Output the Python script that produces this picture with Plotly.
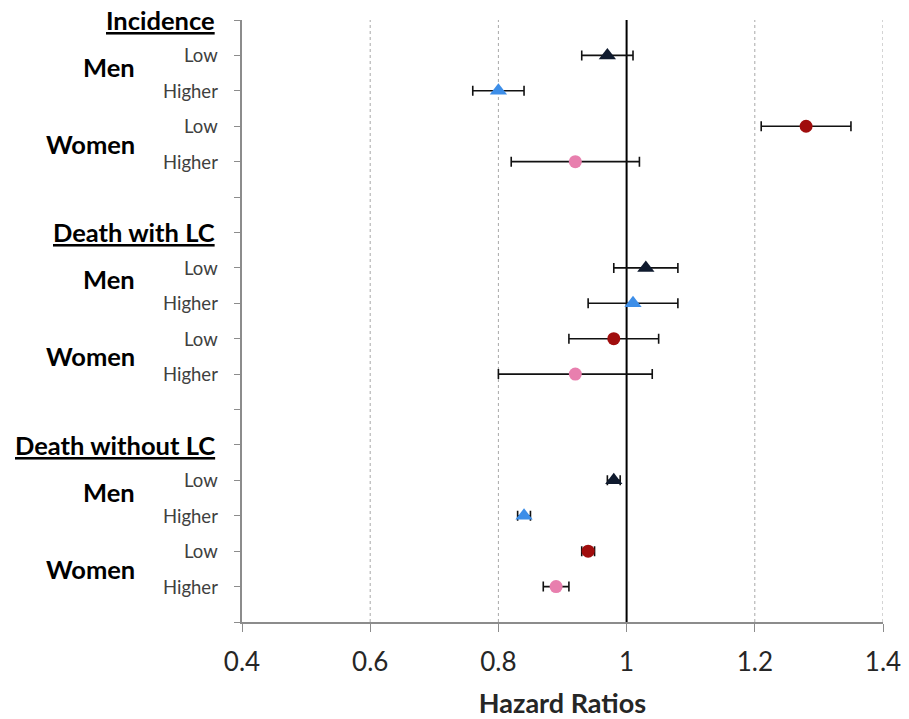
import plotly.graph_objects as go

# ---- data ----
groups = ["Incidence", "Death with LC", "Death without LC"]
sexes = ["Men", "Women"]
levels = ["Low", "Higher"]

men_low_hr = [0.97, 1.03, 0.98]
men_low_lo = [0.93, 0.98, 0.97]
men_low_hi = [1.01, 1.08, 0.99]

men_higher_hr = [0.80, 1.01, 0.84]
men_higher_lo = [0.76, 0.94, 0.83]
men_higher_hi = [0.84, 1.08, 0.85]

women_low_hr = [1.28, 0.98, 0.94]
women_low_lo = [1.21, 0.91, 0.93]
women_low_hi = [1.35, 1.05, 0.95]

women_higher_hr = [0.92, 0.92, 0.89]
women_higher_lo = [0.82, 0.80, 0.87]
women_higher_hi = [1.02, 1.04, 0.91]

x_ticks = [0.4, 0.6, 0.8, 1.0, 1.2, 1.4]
x_tick_labels = ["0.4", "0.6", "0.8", "1", "1.2", "1.4"]
grid_x = [0.6, 0.8, 1.2, 1.4]
x_title = "Hazard Ratios"

# ---- layout helpers ----
FONT = "Lato"
header_y = [17 - 6 * g for g in range(len(groups))]


def rows(offset):
    return [h - offset for h in header_y]


series = [
    (men_low_hr, men_low_lo, men_low_hi, rows(1), "triangle-up", "#0f1a2e", 15),
    (men_higher_hr, men_higher_lo, men_higher_hi, rows(2), "triangle-up", "#3d8ee8", 15),
    (women_low_hr, women_low_lo, women_low_hi, rows(3), "circle", "#a00d0d", 13),
    (women_higher_hr, women_higher_lo, women_higher_hi, rows(4), "circle", "#e87fae", 13),
]

fig = go.Figure()

# dotted gridlines
for gx in grid_x:
    fig.add_shape(type="line", xref="x", yref="paper", x0=gx, x1=gx, y0=0, y1=1,
                  line=dict(color="#a8a8a8", width=1, dash="dot"), layer="below")
# reference line at HR = 1
fig.add_shape(type="line", xref="x", yref="paper", x0=1, x1=1, y0=0, y1=1,
              line=dict(color="#000000", width=2), layer="below")

for hr, lo, hi, ys, sym, col, sz in series:
    fig.add_trace(go.Scatter(
        x=hr, y=ys, mode="markers",
        marker=dict(symbol=sym, color=col, size=sz, line=dict(width=0)),
        error_x=dict(type="data", symmetric=False,
                     array=[h - m for h, m in zip(hi, hr)],
                     arrayminus=[m - l for m, l in zip(hr, lo)],
                     color="#111111", thickness=1.6, width=5),
        showlegend=False, hoverinfo="skip",
    ))

annotations = []
for g, name in enumerate(groups):
    h = header_y[g]
    annotations.append(dict(
        text="<b><u>" + name + "</u></b>", x=0, xshift=-25, y=h, xref="paper", yref="y",
        xanchor="right", yanchor="middle", showarrow=False,
        font=dict(family=FONT, size=25.5, color="#000000")))
    for s, sex in enumerate(sexes):
        y_low = h - 1 - 2 * s
        y_high = h - 2 - 2 * s
        mid = (y_low + y_high) / 2 + (0.18 if s == 0 else 0.0)
        annotations.append(dict(
            text="<b>" + sex + "</b>", x=0, xshift=-105, y=mid, xref="paper", yref="y",
            xanchor="right", yanchor="middle", showarrow=False,
            font=dict(family=FONT, size=25.5, color="#000000")))
        for lv, yy in zip(levels, [y_low, y_high]):
            annotations.append(dict(
                text=lv, x=0, xshift=-22, y=yy, xref="paper", yref="y",
                xanchor="right", yanchor="middle", showarrow=False,
                font=dict(family=FONT, size=18.5, color="#404040")))

fig.update_layout(
    width=909, height=719,
    margin=dict(l=242, r=26, t=20, b=97),
    paper_bgcolor="white", plot_bgcolor="white",
    annotations=annotations,
    font=dict(family=FONT),
    xaxis=dict(
        range=[0.4, 1.4], tickvals=x_ticks, ticktext=x_tick_labels,
        showgrid=False, automargin=False,
        showline=True, linecolor="#8c8c8c", linewidth=1.5,
        ticks="outside", ticklen=8, tickcolor="#8c8c8c", tickwidth=1,
        ticklabelstandoff=8,
        tickfont=dict(family=FONT, size=26, color="#262626"),
        zeroline=False,
        title=dict(text="<b>" + x_title + "</b>", standoff=19,
                   font=dict(family=FONT, size=27, color="#262626")),
    ),
    yaxis=dict(
        range=[0, 17], tickvals=list(range(0, 18)), ticktext=[""] * 18,
        showgrid=False, zeroline=False, automargin=False,
        showline=True, linecolor="#8c8c8c", linewidth=1.5,
        ticks="outside", ticklen=6, tickcolor="#8c8c8c", tickwidth=1,
    ),
)

fig.write_html("out.html")
